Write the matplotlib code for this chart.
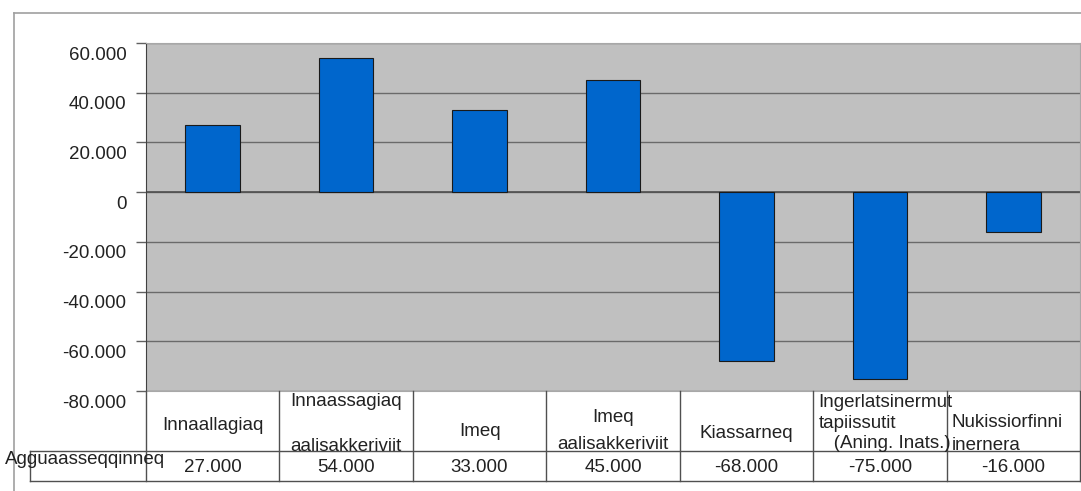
import matplotlib
matplotlib.use('Agg')
import matplotlib.pyplot as plt
import matplotlib.transforms as mtransforms
from matplotlib.lines import Line2D

# column headers as they sit in the data table under the chart
categories = [
    'Innaallagiaq',
    'Innaassagiaq\n\naalisakkeriviit',
    'Imeq',
    'Imeq\naalisakkeriviit',
    'Kiassarneq',
    'Ingerlatsinermut\ntapiissutit\n   (Aning. Inats.)',
    'Nukissiorfinni\ninernera',
]
values = [27000, 54000, 33000, 45000, -68000, -75000, -16000]
value_labels = ['27.000', '54.000', '33.000', '45.000', '-68.000', '-75.000', '-16.000']
series_name = 'Agguaasseqqinneq'
yticks = [-80000, -60000, -40000, -20000, 0, 20000, 40000, 60000]
ytick_labels = ['-80.000', '-60.000', '-40.000', '-20.000', '0', '20.000', '40.000', '60.000']

W, H = 1081, 491
FS = 13.5
plt.rcParams['font.family'] = ['Liberation Sans', 'DejaVu Sans']
fig = plt.figure(figsize=(W / 100, H / 100), dpi=100)

def fy(py):
    return 1 - py / H

def fx(px):
    return px / W

ax = fig.add_axes([fx(146), fy(391), fx(1080) - fx(146), fy(43) - fy(391)])
ax.set_facecolor('#c0c0c0')
ax.set_xlim(-0.5, len(values) - 0.5)
ax.set_ylim(-80000, 60000)

ax.set_yticks(yticks)
ax.set_yticklabels(ytick_labels, fontsize=FS, color='#222222')
ax.tick_params(axis='y', length=7, width=1, color='#606060', pad=7)
ax.set_xticks([])
# labels sit a bit below their tick in the original
offset = mtransforms.ScaledTranslation(0, -0.10, fig.dpi_scale_trans)
for lab in ax.get_yticklabels():
    lab.set_transform(lab.get_transform() + offset)

ax.grid(axis='y', color='#6a6a6a', linewidth=1)
ax.set_axisbelow(True)
ax.axhline(0, color='#505050', linewidth=1.2, zorder=1)
for side in ['top', 'right', 'bottom']:
    ax.spines[side].set_color('#a8a8a8')
ax.spines['left'].set_color('#404040')

ax.bar(range(len(values)), values, width=0.41, color='#0066cc',
       edgecolor='#1a1a1a', linewidth=0.8, zorder=3)

# data table below the plot: x from data coords, y in figure coords
tr = mtransforms.blended_transform_factory(ax.transData, fig.transFigure)
line_kw = dict(color='#505050', linewidth=1)
top, mid, bot = 391, 451, 481
for i in range(len(values) + 1):
    fig.add_artist(Line2D([i - 0.5, i - 0.5], [fy(top), fy(bot)], transform=tr, **line_kw))
fig.add_artist(Line2D([fx(30), fx(1080)], [fy(mid), fy(mid)], transform=fig.transFigure, **line_kw))
fig.add_artist(Line2D([fx(30), fx(1080)], [fy(bot), fy(bot)], transform=fig.transFigure, **line_kw))
fig.add_artist(Line2D([fx(30), fx(30)], [fy(mid), fy(bot)], transform=fig.transFigure, **line_kw))

# outer chart border (top and left)
border_kw = dict(color='#a0a0a0', linewidth=1.2)
fig.add_artist(Line2D([fx(14), 1], [fy(13), fy(13)], transform=fig.transFigure, **border_kw))
fig.add_artist(Line2D([fx(14), fx(14)], [fy(13), 0], transform=fig.transFigure, **border_kw))

txt_kw = dict(fontsize=FS, color='#222222', va='center')
header_y = [425, 424, 432, 431, 433, 423, 434]
header_ls = [1.2, 1.45, 1.2, 1.75, 1.2, 1.25, 1.4]
for i, lab in enumerate(categories):
    if i >= 5:
        fig.text(i - 0.5 + 0.04, fy(header_y[i]), lab, transform=tr, ha='left',
                 linespacing=header_ls[i], **txt_kw)
    else:
        fig.text(i, fy(header_y[i]), lab, transform=tr, ha='center',
                 linespacing=header_ls[i], **txt_kw)
for i, v in enumerate(value_labels):
    fig.text(i, fy(467), v, transform=tr, ha='center', **txt_kw)
fig.text(fx(5), fy(459), series_name, ha='left', **txt_kw)

fig.savefig('out.png', dpi=100, facecolor='white')
